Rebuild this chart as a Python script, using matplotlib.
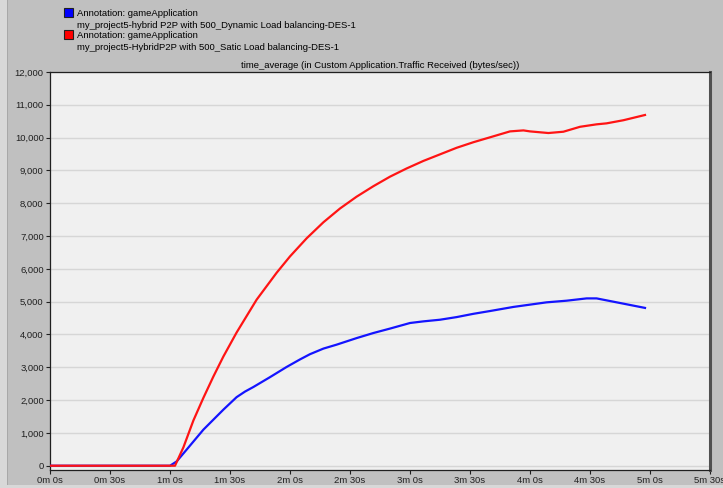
import matplotlib.pyplot as plt
from matplotlib.patches import Rectangle

# %% Data (time in seconds, traffic in bytes/sec)
t_dynamic = [0, 60, 63.3, 68.3, 76.7, 86.7, 93.3, 97.5, 101.7, 110, 118.3, 125,
             130, 136.7, 143.3, 153.3, 161.7, 170, 180, 186.7, 195, 203.3, 211.7,
             220, 231.7, 248.3, 258.3, 268.3, 273.3, 285, 297.5]
v_dynamic = [0, 0, 130, 490, 1100, 1710, 2090, 2260, 2400, 2700, 3010, 3240,
             3400, 3570, 3690, 3890, 4045, 4180, 4350, 4400, 4450, 4530, 4630,
             4715, 4840, 4980, 5030, 5100, 5100, 4960, 4810]

t_static = [0, 62.5, 66.7, 71.7, 76.7, 81.7, 86.7, 93.3, 103.3, 113.3, 120, 128.3,
            136.7, 145, 153.3, 161.7, 170, 178.3, 186.7, 195, 203.3, 211.7, 221.7,
            230, 236.7, 240, 249.2, 256.7, 265, 273.3, 278.3, 286.7, 297.5]
v_static = [0, 0, 560, 1380, 2070, 2720, 3330, 4060, 5060, 5880, 6380, 6930,
            7420, 7840, 8200, 8520, 8810, 9060, 9290, 9490, 9690, 9860, 10040,
            10190, 10220, 10190, 10140, 10180, 10330, 10405, 10435, 10530, 10690]

x_ticks = [0, 30, 60, 90, 120, 150, 180, 210, 240, 270, 300, 330]
x_labels = ["0m 0s", "0m 30s", "1m 0s", "1m 30s", "2m 0s", "2m 30s", "3m 0s",
            "3m 30s", "4m 0s", "4m 30s", "5m 0s", "5m 30s"]
y_ticks = list(range(0, 12001, 1000))

legend_entries = [
    ("#0000ff", "Annotation: gameApplication",
     "my_project5-hybrid P2P with 500_Dynamic Load balancing-DES-1"),
    ("#ff0000", "Annotation: gameApplication",
     "my_project5-HybridP2P with 500_Satic Load balancing-DES-1"),
]
title = "time_average (in Custom Application.Traffic Received (bytes/sec))"

# %% Figure
W, H = 723, 488
plt.rcParams["font.family"] = ["Liberation Sans", "DejaVu Sans"]
fig = plt.figure(figsize=(W / 100, H / 100), dpi=100, facecolor="#c0c0c0")

# window border strips
fig.patches.append(Rectangle((0, 0), 7 / W, 1, transform=fig.transFigure,
                             facecolor="#d8d8d8", edgecolor="none"))
fig.patches.append(Rectangle((7 / W, 0), 1 / W, 1, transform=fig.transFigure,
                             facecolor="#a8a8a8", edgecolor="none"))
fig.patches.append(Rectangle((0, 0), 1, 3 / H, transform=fig.transFigure,
                             facecolor="#d8d8d8", edgecolor="none"))

ax = fig.add_axes([50 / W, 1 - 470 / H, 660 / W, (470 - 72) / H])
ax.set_facecolor("#f0f0f0")

ax.plot(t_dynamic, v_dynamic, color="#1414ff", lw=1.6, zorder=3)
ax.plot(t_static, v_static, color="#ff1414", lw=1.6, zorder=3)

ax.set_xlim(0, 330)
ax.set_ylim(-130, 12000)
ax.set_xticks(x_ticks)
ax.set_xticklabels(x_labels)
ax.set_yticks(y_ticks)
ax.set_yticklabels([f"{v:,}" for v in y_ticks])
ax.tick_params(labelsize=6.8, length=3, width=0.8, colors="#202020", pad=1.5)
ax.yaxis.grid(True, color="#d6d6d6", lw=1)
ax.set_axisbelow(True)

for side in ["left", "bottom", "top"]:
    ax.spines[side].set_color("#202020")
    ax.spines[side].set_linewidth(0.9)
ax.spines["right"].set_color("#505050")
ax.spines["right"].set_linewidth(2.2)

ax.set_title(title, fontsize=6.8, pad=3)

# legend in the top-left corner
for i, (col, line1, line2) in enumerate(legend_entries):
    y0 = 12 + i * 22
    fig.patches.append(Rectangle((64 / W, 1 - (y0 + 4.5) / H), 9 / W, 9 / H,
                                 transform=fig.transFigure, facecolor=col,
                                 edgecolor="#202020", lw=0.8))
    fig.text(77 / W, 1 - (y0 + 1.5) / H, line1, fontsize=6.8, va="center")
    fig.text(77 / W, 1 - (y0 + 13.5) / H, line2, fontsize=6.8, va="center")

fig.savefig("out.png", dpi=100, facecolor=fig.get_facecolor())
